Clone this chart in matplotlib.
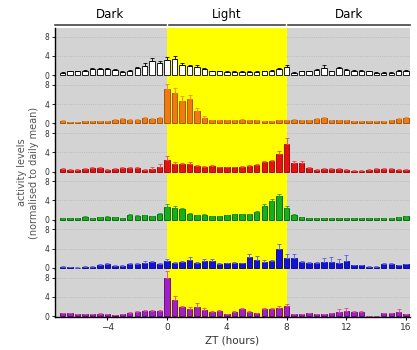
"""Six stacked activity panels over a light/dark cycle."""

import matplotlib

matplotlib.use("Agg")
import matplotlib.pyplot as plt
import numpy as np

# ZT bins (30 min), from ZT -7 to ZT 16
zt = np.arange(-7, 16.01, 0.5)

white = [0.5, 0.8, 0.8, 0.85, 1.2, 1.2, 1.2, 1.0, 0.7, 0.85, 1.4, 2.0, 2.9, 2.5,
         3.2, 3.3, 2.1, 1.9, 1.7, 1.2, 0.8, 0.8, 0.7, 0.7, 0.7, 0.7, 0.7, 0.8, 0.9, 1.2, 1.7,
         0.5, 0.8, 0.8, 1.0, 1.6, 0.8, 1.4, 1.0, 0.9, 0.9, 0.8, 0.5, 0.5, 0.5, 0.8, 0.8]
white_err = [0.1, 0.15, 0.15, 0.15, 0.3, 0.2, 0.25, 0.2, 0.15, 0.2, 0.3, 0.6, 0.7, 0.5,
             0.6, 0.6, 0.5, 0.3, 0.4, 0.2, 0.15, 0.15, 0.1, 0.1, 0.1, 0.1, 0.1, 0.15, 0.2, 0.25, 0.5,
             0.1, 0.15, 0.15, 0.25, 0.5, 0.15, 0.4, 0.2, 0.2, 0.2, 0.15, 0.1, 0.1, 0.1, 0.2, 0.2]

orange = [0.6, 0.2, 0.2, 0.5, 0.5, 0.5, 0.5, 0.8, 0.9, 0.8, 0.8, 1.05, 0.9, 1.05,
          7.2, 6.3, 4.7, 5.0, 2.5, 1.2, 0.7, 0.7, 0.7, 0.7, 0.8, 0.7, 0.7, 0.5, 0.5, 0.7, 0.7,
          0.8, 0.7, 0.7, 0.9, 1.1, 0.7, 0.7, 0.7, 0.5, 0.5, 0.5, 0.5, 0.5, 0.7, 0.9, 1.1]
orange_err = [0.15, 0.05, 0.05, 0.1, 0.1, 0.1, 0.1, 0.2, 0.2, 0.2, 0.2, 0.2, 0.2, 0.2,
              1.0, 1.0, 1.0, 0.9, 0.6, 0.3, 0.1, 0.1, 0.1, 0.1, 0.15, 0.1, 0.1, 0.1, 0.1, 0.1, 0.1,
              0.1, 0.1, 0.1, 0.15, 0.25, 0.1, 0.1, 0.1, 0.1, 0.1, 0.1, 0.1, 0.1, 0.1, 0.15, 0.3]

red = [0.55, 0.4, 0.4, 0.55, 0.7, 0.7, 0.4, 0.55, 0.7, 0.7, 0.75, 0.4, 0.6, 0.9,
       2.5, 1.6, 1.5, 1.6, 1.1, 0.9, 1.1, 0.9, 0.9, 0.9, 1.05, 1.25, 1.4, 2.0, 2.2, 3.6, 5.7,
       1.8, 1.7, 0.7, 0.4, 0.55, 0.55, 0.55, 0.4, 0.2, 0.2, 0.4, 0.55, 0.55, 0.6, 0.4, 0.4]
red_err = [0.1, 0.1, 0.1, 0.1, 0.2, 0.2, 0.1, 0.1, 0.2, 0.2, 0.25, 0.1, 0.3, 0.6,
           0.7, 0.4, 0.3, 0.4, 0.2, 0.2, 0.2, 0.1, 0.1, 0.1, 0.1, 0.2, 0.2, 0.3, 0.3, 0.6, 1.2,
           0.5, 0.4, 0.2, 0.1, 0.1, 0.1, 0.1, 0.1, 0.05, 0.05, 0.1, 0.1, 0.1, 0.1, 0.1, 0.1]

green = [0.4, 0.3, 0.3, 0.6, 0.4, 0.5, 0.6, 0.5, 0.4, 1.0, 0.8, 0.9, 0.7, 1.2,
         2.7, 2.5, 2.2, 1.3, 0.9, 1.05, 0.7, 0.7, 0.9, 1.1, 1.1, 1.1, 1.7, 2.9, 3.9, 4.9, 2.4,
         1.05, 0.55, 0.3, 0.3, 0.3, 0.3, 0.3, 0.3, 0.3, 0.3, 0.3, 0.3, 0.3, 0.4, 0.5, 0.7]
green_err = [0.05, 0.05, 0.05, 0.1, 0.05, 0.1, 0.1, 0.1, 0.05, 0.2, 0.15, 0.15, 0.15, 0.3,
             0.5, 0.3, 0.3, 0.2, 0.1, 0.15, 0.1, 0.1, 0.1, 0.1, 0.15, 0.15, 0.2, 0.3, 0.4, 0.5, 0.4,
             0.15, 0.1, 0.05, 0.05, 0.05, 0.05, 0.05, 0.05, 0.05, 0.05, 0.05, 0.05, 0.05, 0.05, 0.1, 0.15]

blue = [0.3, 0.1, 0.05, 0.3, 0.3, 0.6, 0.75, 0.5, 0.5, 0.75, 0.9, 1.1, 1.15, 0.85,
        1.5, 1.0, 1.2, 1.7, 1.1, 1.5, 1.5, 0.85, 1.0, 1.1, 1.0, 2.2, 1.7, 1.3, 1.5, 4.0, 2.1,
        2.0, 1.2, 1.1, 1.1, 1.3, 1.3, 1.0, 1.5, 0.6, 0.6, 0.3, 0.3, 0.75, 0.75, 0.6, 0.75]
blue_err = [0.05, 0.05, 0.05, 0.05, 0.1, 0.2, 0.3, 0.1, 0.1, 0.2, 0.2, 0.3, 0.3, 0.2,
            0.3, 0.2, 0.3, 0.5, 0.2, 0.3, 0.3, 0.1, 0.1, 0.1, 0.1, 0.6, 0.8, 0.3, 0.2, 1.0, 0.8,
            0.8, 0.2, 0.1, 0.1, 0.8, 1.0, 0.8, 1.2, 0.1, 0.1, 0.05, 0.05, 0.2, 0.2, 0.1, 0.15]

purple = [0.55, 0.55, 0.35, 0.35, 0.4, 0.35, 0.35, 0.2, 0.35, 0.6, 0.85, 1.1, 1.05, 1.05,
          7.9, 3.4, 1.8, 1.4, 1.8, 1.25, 0.9, 1.05, 0.4, 0.9, 1.4, 0.9, 0.55, 1.4, 1.4, 1.6, 2.0,
          0.4, 0.35, 0.55, 0.4, 0.4, 0.55, 0.9, 1.05, 0.9, 0.9, 0.05, 0.05, 0.55, 0.55, 0.9, 0.4]
purple_err = [0.1, 0.1, 0.1, 0.1, 0.1, 0.3, 0.1, 0.05, 0.1, 0.2, 0.2, 0.2, 0.2, 0.2,
              1.5, 0.7, 0.4, 0.4, 0.9, 0.5, 0.2, 0.2, 0.1, 0.2, 0.2, 0.2, 0.1, 0.3, 0.3, 0.4, 0.6,
              0.1, 0.1, 0.2, 0.1, 0.1, 0.1, 0.6, 0.7, 0.2, 0.2, 0.0, 0.0, 0.1, 0.1, 0.6, 0.1]

series = [
    (white, white_err, "white", "black", "black"),
    (orange, orange_err, "#f07a10", "#9a4a00", "#f08a20"),
    (red, red_err, "#e81010", "#8a0000", "#f04848"),
    (green, green_err, "#14b020", "#005a00", "#20a020"),
    (blue, blue_err, "#1212e0", "#00007a", "#5a5af0"),
    (purple, purple_err, "#a020c8", "#5a0070", "#e04890"),
]

fig = plt.figure(figsize=(4.17, 3.5), dpi=100)
gs = fig.add_gridspec(6, 1, left=0.132, right=0.983, top=0.92, bottom=0.094, hspace=0)
axes = [fig.add_subplot(gs[i]) for i in range(6)]

for i, (ax, (vals, err, fc, ec, errc)) in enumerate(zip(axes, series)):
    ax.set_facecolor("#d3d3d3")
    ax.axvspan(0, 8, color="#ffff00", zorder=0.6, lw=0)
    for yl in (4, 8):
        ax.axhline(yl, color="#b4b4b4", lw=0.6, ls=":", zorder=0.5)
    ax.bar(zt, vals, width=0.36, color=fc, edgecolor=ec, lw=0.6, zorder=2)
    ax.errorbar(zt, vals, yerr=[np.zeros(len(err)), err], fmt="none",
                ecolor=errc, elinewidth=0.6, capsize=1.6, capthick=0.6, zorder=2.5)
    ax.set_xlim(-7.5, 16.25)
    ax.set_ylim(-0.2, 9.8)
    ax.set_yticks([0, 4, 8])
    ax.tick_params(axis="y", labelsize=5.5, length=2.5, width=0.6, pad=1.5,
                   labelcolor="#333333")
    for side in ("top", "right", "bottom"):
        ax.spines[side].set_visible(False)
    ax.spines["left"].set_linewidth(1.0)
    if i < 5:
        ax.tick_params(axis="x", bottom=False, labelbottom=False)

bottom = axes[-1]
bottom.spines["bottom"].set_visible(True)
bottom.spines["bottom"].set_linewidth(1.0)
bottom.set_xticks([-4, 0, 4, 8, 12, 16])
bottom.tick_params(axis="x", labelsize=6.5, length=2.5, width=0.8, pad=2,
                   labelcolor="#333333")
bottom.set_xlabel("ZT (hours)", fontsize=7.5, color="#333333", labelpad=2)

# light / dark header
top = axes[0]
trans = top.get_xaxis_transform()
for x0, x1, label in [(-7.5, -0.1, "Dark"), (0.1, 7.9, "Light"), (8.1, 16.25, "Dark")]:
    top.plot([x0, x1], [1.065, 1.065], color="#444444", lw=1.2, transform=trans,
             clip_on=False)
    top.text((x0 + x1) / 2, 1.27, label, transform=trans, ha="center", va="center",
             fontsize=8.5, color="black")

fig.text(0.067, 0.507, "activity levels\n(normalised to daily mean)", rotation=90,
         ha="center", va="center", fontsize=7, color="#555555", linespacing=1.2)

fig.savefig("out.png", dpi=100)
